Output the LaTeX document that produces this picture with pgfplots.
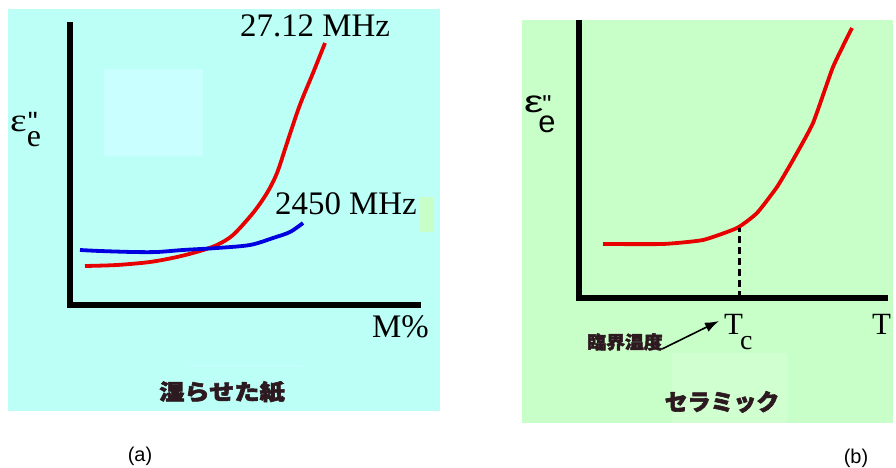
\documentclass[border=0pt]{standalone}
\usepackage{pgfplots}
\pgfplotsset{compat=1.18}
\usetikzlibrary{arrows.meta}
\usepackage{fontspec}
\setmainfont{Liberation Serif}
\newfontfamily\arialfont{Liberation Sans}
\newfontfamily\jp{Noto Sans CJK JP}[BoldFeatures={FakeBold=2.5}]

\definecolor{paperbg}{RGB}{187,255,246}
\definecolor{paperhi}{RGB}{202,255,255}
\definecolor{ceramicbg}{RGB}{200,255,200}
\definecolor{ceramichi}{RGB}{208,255,208}
\definecolor{curvered}{RGB}{232,0,0}
\definecolor{curveblue}{RGB}{0,0,225}
\definecolor{jpink}{RGB}{45,25,32}

\pgfplotsset{
  sketch/.style={
    scale only axis, clip=false,
    axis lines=left,
    axis line style={-, line width=5.5bp, black, line cap=rect},
    xtick=\empty, ytick=\empty,
    xmin=0, ymin=0,
  }
}

\begin{document}
\begin{tikzpicture}
\useasboundingbox (0,0) rectangle (896bp,468bp);

% panel backgrounds
\fill[paperbg] (8bp,57bp) rectangle (440bp,459bp);
\fill[paperhi] (104bp,312bp) rectangle (203bp,399bp);
\fill[ceramicbg] (419bp,236bp) rectangle (433bp,271bp);
\draw[paperhi, line width=1bp] (190bp,102bp) -- (302bp,102bp);
\fill[ceramicbg] (522bp,45bp) rectangle (893bp,448bp);
\fill[ceramichi] (672bp,45bp) rectangle (787bp,115bp);

% (a) wet paper: loss factor vs moisture content
\begin{axis}[sketch, at={(70bp,163bp)}, anchor=south west,
  width=348bp, height=280bp, xmax=348, ymax=280]
\addplot[curvered, line width=3.8bp, smooth, tension=0.5] coordinates {
  (15,39) (47,40) (80,43) (107,48) (130,54) (147,60) (163,70) (183,92)
  (197,112) (207,132) (217,162) (227,192) (233,208) (243,232) (255,262)};
\addplot[curveblue, line width=3.8bp, smooth, tension=0.5] coordinates {
  (10,55) (30,54) (63,53) (87,53) (113,55) (147,57) (180,60) (203,67)
  (220,73) (233,82)};
\end{axis}

% (b) ceramic: loss factor vs temperature
\begin{axis}[sketch, at={(579bp,170bp)}, anchor=south west,
  width=306bp, height=275bp, xmax=306, ymax=275]
\addplot[curvered, line width=3.8bp, smooth, tension=0.3] coordinates {
  (24,54) (84,54) (124,58) (158,70) (178,85) (198,111) (214,138)
  (234,175) (254,231) (273,270)};
\addplot[black, line width=3bp, dash pattern=on 7bp off 4bp] coordinates {
  (160,0) (160,70)};
\end{axis}

% labels of panel (a)
\begin{scope}[font=\fontsize{33}{36}\selectfont]
\node[anchor=base west, inner sep=0] at (240bp,431bp) {27.12 MHz};
\node[anchor=base west, inner sep=0] at (275bp,253bp) {2450 MHz};
\node[anchor=base west, inner sep=0] at (372bp,130bp) {M\%};
\node[anchor=base west, inner sep=0] at (10bp,336bp)
  {\scalebox{1.2}[1]{ε}\rlap{\kern1bp\raisebox{0bp}{\arialfont\fontsize{28}{30}\selectfont "}}\raisebox{-15bp}{\fontsize{32}{34}\selectfont e}};
\end{scope}

% labels of panel (b)
\node[anchor=base west, inner sep=0, font=\arialfont\fontsize{31}{34}\selectfont] at (524bp,355bp)
  {\scalebox{1.4}[1]{ε}\rlap{\kern-1bp\raisebox{-1bp}{\fontsize{26}{28}\selectfont "}}\kern-5bp\raisebox{-20bp}{e}};
\begin{scope}[font=\fontsize{31}{34}\selectfont]
\node[anchor=base west, inner sep=0] at (724bp,133bp)
  {T\kern-3bp\raisebox{-15bp}{\fontsize{28}{30}\selectfont c}};
\node[anchor=base west, inner sep=0] at (872bp,133bp) {T};
\end{scope}
\draw[black, line width=1.6bp, -{Latex[length=14bp,width=10bp]}] (662bp,119bp) -- (719bp,147bp);

% Japanese captions
\node[jpink, font=\jp\bfseries\fontsize{18}{20}\selectfont, xscale=1.05] at (625bp,126bp) {臨界温度};
\node[jpink, font=\jp\bfseries\fontsize{23}{25}\selectfont] at (722bp,66bp) {セラミック};
\node[jpink, font=\jp\bfseries\fontsize{22}{24}\selectfont, xscale=1.15] at (222bp,76bp) {湿らせた紙};

% panel tags
\node[font=\arialfont\fontsize{20}{22}\selectfont] at (140bp,12bp) {(a)};
\node[font=\arialfont\fontsize{20}{22}\selectfont] at (856bp,10bp) {(b)};
\end{tikzpicture}
\end{document}
